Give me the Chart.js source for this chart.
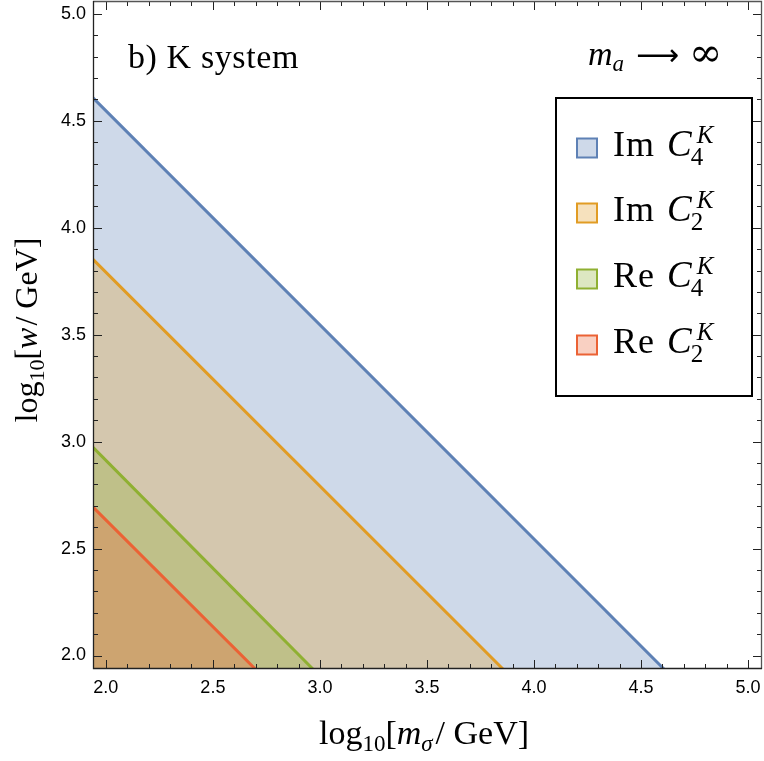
<!DOCTYPE html>
<html>
<head>
<meta charset="utf-8">
<script src="https://cdn.jsdelivr.net/npm/chart.js@4.4.1/dist/chart.umd.min.js"></script>
<style>
  html, body { margin: 0; padding: 0; background: #fff; }
  #wrap { width: 764px; height: 761px; position: relative; }
</style>
</head>
<body>
<div id="wrap"><canvas id="c" width="764" height="761"></canvas></div>
<script>
// axis ranges and tick labels
const xRange = [1.94, 5.065];
const yRange = [1.937, 5.06];
const xTicks = [2.0, 2.5, 3.0, 3.5, 4.0, 4.5, 5.0];
const yTicks = [2.0, 2.5, 3.0, 3.5, 4.0, 4.5, 5.0];

// boundary lines (endpoints)
const im4X = [1.94, 4.607];
const im4Y = [4.607, 1.937];
const im2X = [1.94, 3.855];
const im2Y = [3.852, 1.937];
const re4X = [1.94, 2.967];
const re4Y = [2.973, 1.937];
const re2X = [1.94, 2.698];
const re2Y = [2.694, 1.937];

const series = [
  { name: 'Im', sub: '4', xs: im4X, ys: im4Y, color: '94,129,181', order: 3 },
  { name: 'Im', sub: '2', xs: im2X, ys: im2Y, color: '225,156,36', order: 2 },
  { name: 'Re', sub: '4', xs: re4X, ys: re4Y, color: '143,176,50', order: 1 },
  { name: 'Re', sub: '2', xs: re2X, ys: re2Y, color: '235,98,53', order: 0 }
];

const SERIF = '"Liberation Serif", "DejaVu Serif", serif';
const SANS = '"Liberation Sans", Arial, sans-serif';

// text pieces: {t, size, italic, dy, gap, fam}
function setFont(ctx, p) {
  ctx.font = (p.italic ? 'italic ' : '') + p.size + 'px ' + (p.fam || SERIF);
}
function richWidth(ctx, parts) {
  let w = 0;
  parts.forEach(p => {
    setFont(ctx, p);
    w += (p.noAdvance ? 0 : ctx.measureText(p.t).width) + (p.gap || 0);
  });
  return w;
}
function drawRich(ctx, parts, x, y, align) {
  let cx = x;
  if (align === 'center') cx = x - richWidth(ctx, parts) / 2;
  ctx.textAlign = 'left';
  ctx.textBaseline = 'alphabetic';
  parts.forEach(p => {
    setFont(ctx, p);
    ctx.fillText(p.t, cx + (p.dx || 0), y + (p.dy || 0));
    cx += (p.noAdvance ? 0 : ctx.measureText(p.t).width) + (p.gap || 0);
  });
}

// inward ticks on all four sides, frame, titles and legend
const decorPlugin = {
  id: 'decor',
  afterDatasetsDraw(chart) {
    const { ctx, chartArea: a, scales: { x, y } } = chart;
    ctx.save();

    // ticks every 0.1, longer every 0.5
    ctx.strokeStyle = '#222';
    ctx.lineWidth = 1;
    for (let i = 20; i <= 50; i++) {
      const v = i / 10;
      const len = i % 5 === 0 ? 9 : 5;
      const px = Math.round(x.getPixelForValue(v)) + 0.5;
      const py = Math.round(y.getPixelForValue(v)) + 0.5;
      ctx.beginPath();
      ctx.moveTo(px, a.bottom); ctx.lineTo(px, a.bottom - len);
      ctx.moveTo(px, a.top); ctx.lineTo(px, a.top + len);
      ctx.moveTo(a.left, py); ctx.lineTo(a.left + len, py);
      ctx.moveTo(a.right, py); ctx.lineTo(a.right - len, py);
      ctx.stroke();
    }

    // frame: darker left/bottom axes, lighter top/right
    ctx.lineWidth = 1.3;
    ctx.strokeStyle = '#555';
    ctx.beginPath();
    ctx.moveTo(a.left, a.top + 0.5); ctx.lineTo(a.right - 0.5, a.top + 0.5);
    ctx.lineTo(a.right - 0.5, a.bottom);
    ctx.stroke();
    ctx.strokeStyle = '#222';
    ctx.beginPath();
    ctx.moveTo(a.left + 0.5, a.top); ctx.lineTo(a.left + 0.5, a.bottom - 0.5);
    ctx.lineTo(a.right, a.bottom - 0.5);
    ctx.stroke();

    ctx.fillStyle = '#000';
    // x title
    drawRich(ctx, [
      { t: 'log', size: 34 },
      { t: '10', size: 23, dy: 7 },
      { t: '[', size: 34 },
      { t: 'm', size: 34, italic: true },
      { t: 'σ', size: 23, italic: true, dy: 7, gap: 3 },
      { t: '/ GeV]', size: 34 }
    ], 424, 744, 'center');

    // y title
    ctx.save();
    ctx.translate(37, 330);
    ctx.rotate(-Math.PI / 2);
    drawRich(ctx, [
      { t: 'log', size: 32 },
      { t: '10', size: 22, dy: 7 },
      { t: '[', size: 32 },
      { t: 'w', size: 32, italic: true, gap: 2 },
      { t: '/ GeV]', size: 32 }
    ], 0, 0, 'center');
    ctx.restore();

    // labels inside plot
    ctx.letterSpacing = '0.6px';
    drawRich(ctx, [{ t: 'b) K system', size: 34 }], 128, 68);
    ctx.letterSpacing = '0px';
    drawRich(ctx, [
      { t: 'm', size: 34, italic: true },
      { t: 'a', size: 23, italic: true, dy: 6, gap: 12 },
      { t: '⟶', size: 30, fam: '"DejaVu Sans", sans-serif', dy: 0, gap: 10 },
      { t: '∞', size: 40, fam: '"DejaVu Serif", serif', dy: 1 }
    ], 588, 65);

    // legend box
    const lx = 556, ly = 98, lw = 196, lh = 298;
    ctx.fillStyle = '#fff';
    ctx.fillRect(lx, ly, lw, lh);
    ctx.strokeStyle = '#000';
    ctx.lineWidth = 2;
    ctx.strokeRect(lx, ly, lw, lh);
    const rowY = [148, 213, 279, 345];
    series.forEach((s, i) => {
      const cy = rowY[i];
      ctx.fillStyle = 'rgba(' + s.color + ',0.3)';
      ctx.fillRect(577, cy - 9.5, 20, 19);
      ctx.strokeStyle = 'rgb(' + s.color + ')';
      ctx.lineWidth = 2;
      ctx.strokeRect(577, cy - 9.5, 20, 19);
      ctx.fillStyle = '#000';
      ctx.letterSpacing = '1px';
      drawRich(ctx, [{ t: s.name, size: 36 }], 613, cy + 8);
      ctx.letterSpacing = '0px';
      drawRich(ctx, [
        { t: 'C', size: 37, italic: true, gap: -1 },
        { t: 'K', size: 25, italic: true, dy: -13, dx: 6, noAdvance: true },
        { t: s.sub, size: 25, dy: 9 }
      ], 667, cy + 8);
    });

    ctx.restore();
  }
};

const datasets = series.map(s => ({
  label: s.name + ' C' + s.sub + 'K',
  data: s.xs.map((v, i) => ({ x: v, y: s.ys[i] })),
  showLine: true,
  borderColor: 'rgb(' + s.color + ')',
  backgroundColor: 'rgba(' + s.color + ',0.3)',
  borderWidth: 3,
  pointRadius: 0,
  fill: 'start',
  order: s.order
}));

new Chart(document.getElementById('c').getContext('2d'), {
  type: 'scatter',
  data: { datasets },
  options: {
    responsive: false,
    animation: false,
    layout: { padding: { left: 0, top: 1, right: 2, bottom: 0 } },
    plugins: { legend: { display: false }, tooltip: { enabled: false } },
    scales: {
      x: {
        type: 'linear',
        min: xRange[0],
        max: xRange[1],
        afterBuildTicks: s => { s.ticks = xTicks.map(v => ({ value: v })); },
        afterFit: s => { s.height = 92; s.paddingLeft = 0; s.paddingRight = 0; },
        grid: { display: false, drawTicks: false },
        border: { display: false },
        ticks: {
          padding: 8,
          maxRotation: 0,
          color: '#000',
          font: { family: SANS, size: 18 },
          callback: v => v.toFixed(1)
        }
      },
      y: {
        type: 'linear',
        min: yRange[0],
        max: yRange[1],
        afterBuildTicks: s => { s.ticks = yTicks.map(v => ({ value: v })); },
        afterFit: s => { s.width = 93; s.paddingTop = 0; s.paddingBottom = 0; },
        grid: { display: false, drawTicks: false },
        border: { display: false },
        ticks: {
          padding: 7,
          color: '#000',
          font: { family: SANS, size: 18 },
          callback: v => v.toFixed(1)
        }
      }
    }
  },
  plugins: [decorPlugin]
});
</script>
</body>
</html>
